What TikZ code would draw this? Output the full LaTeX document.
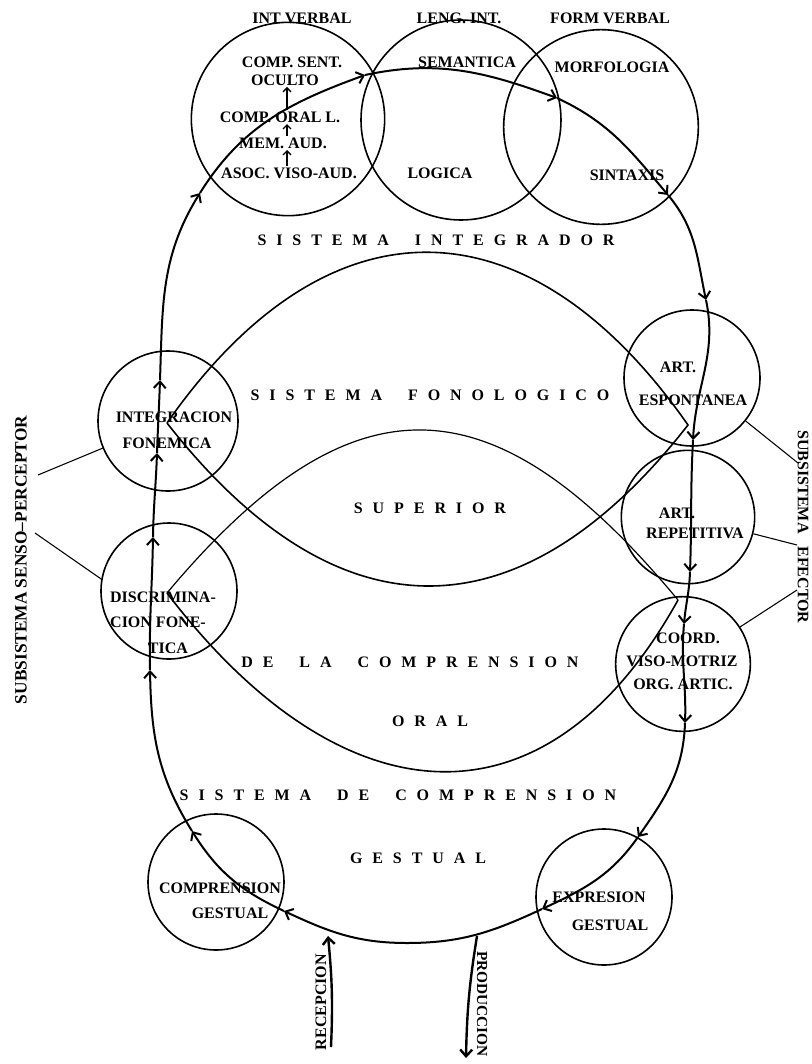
\documentclass[tikz,border=0pt]{standalone}
\usepackage{fontspec}
\setmainfont{Liberation Serif}
\usetikzlibrary{arrows.meta}

\newcommand{\spread}[1]{{\spaceskip=0.62em\relax #1}}

\tikzset{
  circ/.style={circle, draw, line width=1.2pt, minimum size=#1, inner sep=0pt},
  lbl/.style={font=\fontsize{12}{13}\selectfont\bfseries, inner sep=1pt},
  sysname/.style={font=\fontsize{12}{14}\selectfont\bfseries, inner sep=1pt},
  flow/.style={->, line width=1.5pt},
  lens/.style={line width=1.2pt},
  inarrow/.style={-{Straight Barb[length=3pt,width=6pt]}, line width=1pt},
}

\begin{document}
\begin{tikzpicture}[x=0.75pt, y=-0.75pt, >={Straight Barb[length=5pt,width=9pt]}]
\useasboundingbox (0,0) rectangle (812,1064);

% Sistema integrador
\node[circ=145pt] (intverb) at (288,119) {};
\node[circ=150pt] (lengint) at (461,120) {};
\node[circ=146pt] (formverb) at (601,127) {};
\node[lbl] (tintverb) at (302,18) {INT VERBAL};
\node[lbl] (tlengint) at (459,18) {LENG. INT.};
\node[lbl] (tformverb) at (610,18) {FORM VERBAL};

\node[lbl] (compsent) at (292,62) {COMP. SENT.};
\node[lbl] (oculto) at (285,80) {OCULTO};
\node[lbl] (comporal) at (280,117) {COMP. ORAL L.};
\node[lbl] (memaud) at (283,143) {MEM. AUD.};
\node[lbl] (asoc) at (289,173) {ASOC. VISO-AUD.};
\draw[inarrow] (asoc.north -| 287,0) -- (memaud.south -| 287,0);
\draw[inarrow] (memaud.north -| 287,0) -- (comporal.south -| 287,0);
\draw[inarrow] (comporal.north -| 287,0) -- (oculto.south -| 287,0);

\node[lbl] (semantica) at (467,62) {SEMANTICA};
\node[lbl] (logica) at (440,173) {LOGICA};
\node[lbl] (morfologia) at (612,67) {MORFOLOGIA};
\node[lbl] (sintaxis) at (627,175) {SINTAXIS};

\node[sysname] (sisint) at (436,240) {\spread{S I S T E M A \quad I N T E G R A D O R}};

% sistema fonologico (dos lentes)
\coordinate (aL) at (167,423);
\coordinate (aR) at (688,425);
\coordinate (bL) at (167,593);
\coordinate (bR) at (678,600);
\draw[lens] (aL) .. controls (327,194) and (528,196) .. (aR)
                 .. controls (519,641) and (336,639) .. (aL);
\draw[line width=0.9pt] (bL) .. controls (353,371) and (494,378) .. (bR);
\draw[lens] (bL) .. controls (340,820) and (545,840) .. (bR);

\node[sysname] (sisfon) at (430,395) {\spread{S I S T E M A \quad F O N O L O G I C O}};
\node[sysname] (superior) at (430,508) {\spread{S U P E R I O R}};
\node[sysname] (delacomp) at (410,662) {\spread{D E \quad L A \quad C O M P R E N S I O N}};
\node[sysname] (oral) at (430,721) {\spread{O R A L}};

% circulos laterales
\node[circ=105pt] (integ) at (168,421) {};
\node[lbl] (tinteg1) at (174,417) {INTEGRACION};
\node[lbl] (tinteg2) at (167,443) {FONEMICA};

\node[circ=102pt] (discr) at (169,591) {};
\node[lbl] (tdiscr1) at (163,597) {DISCRIMINA-};
\node[lbl] (tdiscr2) at (158,622) {CION FONE-};
\node[lbl] (tdiscr3) at (168,648) {TICA};

\node[circ=102pt] (espont) at (692,378) {};
\node[lbl] (tespont1) at (678,367) {ART.};
\node[lbl] (tespont2) at (693,400) {ESPONTANEA};

\node[circ=100pt] (repet) at (688,517) {};
\node[lbl] (trepet1) at (677,513) {ART.};
\node[lbl] (trepet2) at (695,533) {REPETITIVA};

\node[circ=101pt] (coord) at (683,664) {};
\node[lbl] (tcoord1) at (688,638) {COORD.};
\node[lbl] (tcoord2) at (682,661) {VISO-MOTRIZ};
\node[lbl] (tcoord3) at (683,684) {ORG. ARTIC.};

% sistema de comprension gestual
\node[sysname] (sisgest) at (398,795) {\spread{S I S T E M A \quad D E \quad C O M P R E N S I O N}};
\node[sysname] (gestual) at (418,858) {\spread{G E S T U A L}};

\node[circ=102pt] (compg) at (216,882) {};
\node[lbl] (tcompg1) at (220,888) {COMPRENSION};
\node[lbl] (tcompg2) at (230,913) {GESTUAL};

\node[circ=102pt] (exprg) at (604,897) {};
\node[lbl] (texprg1) at (599,897) {EXPRESION};
\node[lbl] (texprg2) at (610,925) {GESTUAL};

% circuito
\coordinate (l0) at (407,943);
\coordinate (l1) at (284,911);
\coordinate (l2) at (192,831);
\coordinate (l3) at (150,670);
\coordinate (l4) at (153,537);
\coordinate (l5) at (157,453);
\coordinate (l6) at (160,380);
\coordinate (l7) at (200,193);
\coordinate (l8) at (365,75);
\coordinate (l9) at (557,98);
\coordinate (l10) at (668,195);
\coordinate (l11) at (706,300);
\coordinate (l12) at (693,440);
\coordinate (l13) at (690,572);
\coordinate (l14) at (684,624);
\coordinate (l15) at (685,723);
\coordinate (l16) at (638,837);
\coordinate (l17) at (542,909);

\draw[flow] (l17) to[out=205,in=0] (l0) to[out=180,in=-25] (l1);
\draw[flow] (l1) to[out=155,in=-58] (l2);
\draw[flow] (l2) to[out=122,in=-89] (l3);
\draw[flow] (l3) to[out=91,in=-91] (l4);
\draw[flow] (l4) to[out=89,in=-92] (l5);
\draw[flow] (l5) to[out=88,in=-92] (l6);
\draw[flow] (l6) to[out=88,in=-122] (l7);
\draw[flow] (l7) to[out=58,in=200] (l8);
\draw[flow] (l8) to[out=12,in=160] (l9);
\draw[flow] (l9) to[out=-25,in=130] (l10);
\draw[flow] (l10) to[out=-50,in=102] (l11);
\draw[flow] (l11) to[out=-78,in=87] (l12);
\draw[flow] (l12) to[out=-93,in=88] (l13);
\draw[flow] (l13) to[out=-92,in=85] (l14);
\draw[flow] (l14) to[out=-95,in=88] (l15);
\draw[flow] (l15) to[out=-92,in=55] (l16);
\draw[flow] (l16) to[out=-125,in=25] (l17);

% recepcion y produccion
\coordinate (recin) at (331,1047);
\coordinate (rectip) at (328,936);
\draw[->, line width=1.8pt] (recin) to[bend right=4] (rectip);
\node[lbl, rotate=90] (trec) at (321,1002) {RECEPCION};

\coordinate (prodout) at (477,936);
\coordinate (prodtip) at (466,1058);
\draw[->, line width=1.8pt] (prodout) to[bend right=4] (prodtip);
\node[lbl, rotate=-90, font=\fontsize{11.5}{12}\selectfont\bfseries] (tprod) at (482,1004) {PRODUCCION};

% subsistemas
\node[lbl, rotate=90, font=\fontsize{13}{14}\selectfont\bfseries] (senso) at (21,560) {SUBSISTEMA SENSO--PERCEPTOR};
\coordinate (sp1) at (38,475);
\coordinate (sp2) at (35,533);
\draw[thick] (sp1) -- (integ);
\draw[thick] (sp2) -- (discr.170);

\node[lbl, rotate=-90] (efector) at (803,527) {SUBSISTEMA\hspace{0.8em}EFECTOR};
\coordinate (ef1) at (798,463);
\coordinate (ef2) at (797,545);
\coordinate (ef3) at (797,590);
\draw[thick] (ef1) -- (espont);
\draw[thick] (ef2) -- (repet);
\draw[thick] (ef3) -- (coord);

\end{tikzpicture}
\end{document}
